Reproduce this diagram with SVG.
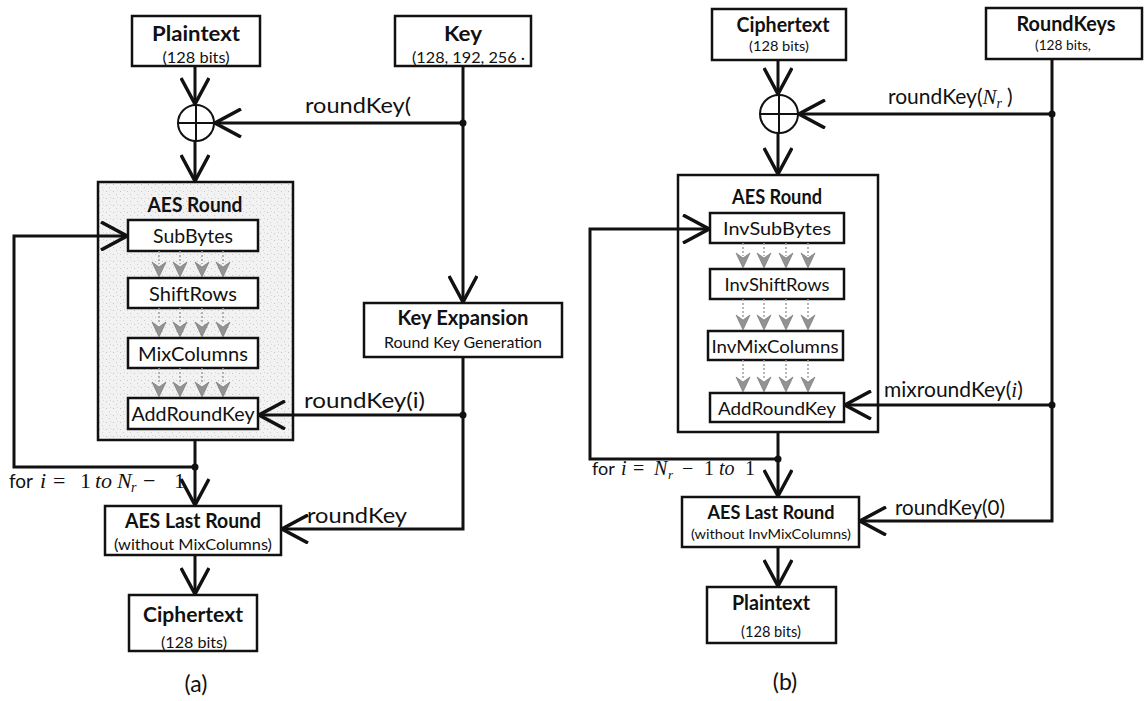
<svg xmlns="http://www.w3.org/2000/svg" xmlns:xlink="http://www.w3.org/1999/xlink" width="1144" height="701" viewBox="0 0 1144 701">
  <defs>
    <style>
      .box { fill: #fff; stroke: #111; stroke-width: 2.5; }
      .line { fill: none; stroke: #111; stroke-width: 3; }
      .thin { fill: none; stroke: #111; stroke-width: 2; }
      .stem { fill: none; stroke: #a0a0a0; stroke-width: 1.5; stroke-dasharray: 2 2; }
      .head { fill: #939393; stroke: #6f6f6f; stroke-width: 0.6; }
      .dot { fill: #111; }
      text { fill: #111; }
      .b { font-family: Lato, "Open Sans", sans-serif; font-weight: bold; text-anchor: middle; }
      .r { font-family: Lato, "Open Sans", sans-serif; }
      .c { text-anchor: middle; }
      .m { font-family: "Liberation Serif", "DejaVu Serif", serif; font-style: italic; }
      .n { font-family: "Liberation Serif", "DejaVu Serif", serif; }
    </style>
    <marker id="v" viewBox="0 0 30 30" refX="28" refY="15" markerWidth="30" markerHeight="30" markerUnits="userSpaceOnUse" orient="auto">
      <path d="M2,1 L28,15 L2,29" fill="none" stroke="#111" stroke-width="3.5"/>
    </marker>
    <pattern id="stipple" width="7" height="7" patternUnits="userSpaceOnUse">
      <rect width="7" height="7" fill="#f2f2f2"/>
      <rect x="1" y="2" width="1" height="1" fill="#c4c4c4"/>
      <rect x="4" y="5" width="1" height="1" fill="#cfcfcf"/>
      <rect x="5" y="1" width="1" height="1" fill="#d8d8d8"/>
    </pattern>
    <path id="gh" d="M-7,-15 L0,0 L7,-15 L0,-10 Z" class="head"/>
  </defs>

  <!-- ===================== (a) Encryption ===================== -->
  <g id="a-plaintext">
    <rect class="box" x="132" y="16" width="128" height="50"/>
    <text class="b" x="196" y="41" font-size="21" textLength="88" lengthAdjust="spacingAndGlyphs">Plaintext</text>
    <text class="r c" x="196" y="63" font-size="16" textLength="67" lengthAdjust="spacingAndGlyphs">(128 bits)</text>
  </g>
  <g id="a-key">
    <rect class="box" x="395" y="16" width="136" height="50"/>
    <text class="b" x="463" y="41" font-size="21" textLength="38" lengthAdjust="spacingAndGlyphs">Key</text>
    <text class="r" x="412" y="63" font-size="16" textLength="113" lengthAdjust="spacingAndGlyphs">(128, 192, 256 ·</text>
  </g>
  <g id="a-xor">
    <circle cx="196" cy="123" r="18" class="thin" fill="#fff"/>
    <path class="thin" d="M178,123 H214 M196,105 V141"/>
  </g>
  <g id="a-round">
    <rect x="98" y="182" width="195" height="258" fill="url(#stipple)" stroke="#111" stroke-width="2.5"/>
    <text class="b" x="195" y="212" font-size="21" textLength="95" lengthAdjust="spacingAndGlyphs">AES Round</text>
    <rect class="box" x="128" y="220" width="130" height="31"/>
    <text class="r c" x="193" y="243" font-size="20" textLength="80" lengthAdjust="spacingAndGlyphs">SubBytes</text>
    <rect class="box" x="128" y="278" width="130" height="30"/>
    <text class="r c" x="193" y="301" font-size="20" textLength="88" lengthAdjust="spacingAndGlyphs">ShiftRows</text>
    <rect class="box" x="128" y="338" width="130" height="30"/>
    <text class="r c" x="193" y="361" font-size="20" textLength="110" lengthAdjust="spacingAndGlyphs">MixColumns</text>
    <rect class="box" x="128" y="398" width="130" height="31"/>
    <text class="r c" x="193" y="421" font-size="20" textLength="123" lengthAdjust="spacingAndGlyphs">AddRoundKey</text>
    <path class="stem" d="M159,251 V264 M180,251 V264 M202,251 V264 M223,251 V264 M159,308 V324 M180,308 V324 M202,308 V324 M223,308 V324 M159,368 V384 M180,368 V384 M202,368 V384 M223,368 V384"/>
    <use xlink:href="#gh" x="159" y="277"/><use xlink:href="#gh" x="180" y="277"/><use xlink:href="#gh" x="202" y="277"/><use xlink:href="#gh" x="223" y="277"/>
    <use xlink:href="#gh" x="159" y="337"/><use xlink:href="#gh" x="180" y="337"/><use xlink:href="#gh" x="202" y="337"/><use xlink:href="#gh" x="223" y="337"/>
    <use xlink:href="#gh" x="159" y="397"/><use xlink:href="#gh" x="180" y="397"/><use xlink:href="#gh" x="202" y="397"/><use xlink:href="#gh" x="223" y="397"/>
  </g>
  <g id="a-expansion">
    <rect class="box" x="364" y="303" width="198" height="54"/>
    <text class="b" x="463" y="325" font-size="20" textLength="131" lengthAdjust="spacingAndGlyphs">Key Expansion</text>
    <text class="r c" x="463" y="348" font-size="16" textLength="158" lengthAdjust="spacingAndGlyphs">Round Key Generation</text>
  </g>
  <g id="a-last">
    <rect class="box" x="105" y="506" width="176" height="49"/>
    <text class="b" x="193" y="528" font-size="20" textLength="136" lengthAdjust="spacingAndGlyphs">AES Last Round</text>
    <text class="r c" x="193" y="550" font-size="16" textLength="158" lengthAdjust="spacingAndGlyphs">(without MixColumns)</text>
  </g>
  <g id="a-ciphertext">
    <rect class="box" x="129" y="595" width="128" height="56"/>
    <text class="b" x="193" y="622" font-size="21" textLength="100" lengthAdjust="spacingAndGlyphs">Ciphertext</text>
    <text class="r c" x="194" y="648" font-size="16" textLength="66" lengthAdjust="spacingAndGlyphs">(128 bits)</text>
  </g>

  <g id="a-connectors">
    <path class="line" d="M195,66 V104" marker-end="url(#v)"/>
    <path class="line" d="M195,141 V181" marker-end="url(#v)"/>
    <path class="line" d="M463,66 V302" marker-end="url(#v)"/>
    <path class="line" d="M463,123 H215" marker-end="url(#v)"/>
    <path class="line" d="M463,357 V529 H282" marker-end="url(#v)"/>
    <path class="line" d="M463,415 H259" marker-end="url(#v)"/>
    <path class="line" d="M195,440 V505" marker-end="url(#v)"/>
    <path class="line" d="M195,467 H14 V236 H127" marker-end="url(#v)"/>
    <path class="line" d="M195,555 V594" marker-end="url(#v)"/>
    <circle class="dot" cx="463" cy="123" r="3.5"/>
    <circle class="dot" cx="463" cy="415" r="3.5"/>
    <circle class="dot" cx="195" cy="467" r="3.5"/>
  </g>
  <g id="a-labels">
    <text class="r" x="305" y="113" font-size="21" textLength="106" lengthAdjust="spacingAndGlyphs">roundKey(</text>
    <text class="r" x="304" y="408" font-size="21" textLength="121" lengthAdjust="spacingAndGlyphs">roundKey(i)</text>
    <text class="r" x="307" y="523" font-size="21" textLength="100" lengthAdjust="spacingAndGlyphs">roundKey</text>
    <text y="488" font-size="22">
      <tspan class="r" x="9" font-size="19">for</tspan>
      <tspan class="m" x="40">i</tspan>
      <tspan class="n" x="53">=</tspan>
      <tspan class="n" x="80">1</tspan>
      <tspan class="m" x="95">to</tspan>
      <tspan class="m" x="117">N</tspan>
      <tspan class="m" x="131" dy="4" font-size="14">r</tspan>
      <tspan class="n" x="143" dy="-4">−</tspan>
      <tspan class="n" x="174">1</tspan>
    </text>
    <text class="r c" x="196" y="692" font-size="23">(a)</text>
  </g>

  <!-- ===================== (b) Decryption ===================== -->
  <g id="b-ciphertext">
    <rect class="box" x="712" y="9" width="134" height="51"/>
    <text class="b" x="783" y="32" font-size="20" textLength="93" lengthAdjust="spacingAndGlyphs">Ciphertext</text>
    <text class="r c" x="779" y="51" font-size="14" textLength="60" lengthAdjust="spacingAndGlyphs">(128 bits)</text>
  </g>
  <g id="b-roundkeys">
    <rect class="box" x="986" y="8" width="156" height="51"/>
    <text class="b" x="1066" y="31" font-size="20" textLength="99" lengthAdjust="spacingAndGlyphs">RoundKeys</text>
    <text class="r" x="1035" y="50" font-size="14" textLength="56" lengthAdjust="spacingAndGlyphs">(128 bits,</text>
  </g>
  <g id="b-xor">
    <circle cx="779" cy="114" r="19" class="thin" fill="#fff"/>
    <path class="thin" d="M760,114 H798 M779,95 V133"/>
  </g>
  <g id="b-round">
    <rect class="box" x="678" y="175" width="200" height="257"/>
    <text class="b" x="777" y="204" font-size="20" textLength="90" lengthAdjust="spacingAndGlyphs">AES Round</text>
    <rect class="box" x="710" y="213" width="134" height="30"/>
    <text class="r c" x="777" y="235" font-size="18" textLength="108" lengthAdjust="spacingAndGlyphs">InvSubBytes</text>
    <rect class="box" x="710" y="269" width="134" height="30"/>
    <text class="r c" x="777" y="291" font-size="18" textLength="105" lengthAdjust="spacingAndGlyphs">InvShiftRows</text>
    <rect class="box" x="708" y="331" width="135" height="29"/>
    <text class="r c" x="775" y="353" font-size="18" textLength="127" lengthAdjust="spacingAndGlyphs">InvMixColumns</text>
    <rect class="box" x="710" y="393" width="134" height="29"/>
    <text class="r c" x="777" y="415" font-size="18" textLength="118" lengthAdjust="spacingAndGlyphs">AddRoundKey</text>
    <path class="stem" d="M743,243 V256 M764,243 V256 M786,243 V256 M808,243 V256 M743,299 V318 M764,299 V318 M786,299 V318 M808,299 V318 M743,360 V380 M764,360 V380 M786,360 V380 M808,360 V380"/>
    <use xlink:href="#gh" x="743" y="268"/><use xlink:href="#gh" x="764" y="268"/><use xlink:href="#gh" x="786" y="268"/><use xlink:href="#gh" x="808" y="268"/>
    <use xlink:href="#gh" x="743" y="330"/><use xlink:href="#gh" x="764" y="330"/><use xlink:href="#gh" x="786" y="330"/><use xlink:href="#gh" x="808" y="330"/>
    <use xlink:href="#gh" x="743" y="392"/><use xlink:href="#gh" x="764" y="392"/><use xlink:href="#gh" x="786" y="392"/><use xlink:href="#gh" x="808" y="392"/>
  </g>
  <g id="b-last">
    <rect class="box" x="682" y="497" width="177" height="50"/>
    <text class="b" x="771" y="519" font-size="19" textLength="127" lengthAdjust="spacingAndGlyphs">AES Last Round</text>
    <text class="r c" x="771" y="539" font-size="14" textLength="160" lengthAdjust="spacingAndGlyphs">(without InvMixColumns)</text>
  </g>
  <g id="b-plaintext">
    <rect class="box" x="707" y="587" width="129" height="56"/>
    <text class="b" x="771" y="610" font-size="20" textLength="78" lengthAdjust="spacingAndGlyphs">Plaintext</text>
    <text class="r c" x="771" y="637" font-size="15" textLength="60" lengthAdjust="spacingAndGlyphs">(128 bits)</text>
  </g>

  <g id="b-connectors">
    <path class="line" d="M778,60 V94" marker-end="url(#v)"/>
    <path class="line" d="M778,133 V174" marker-end="url(#v)"/>
    <path class="line" d="M1052,59 V521 H860" marker-end="url(#v)"/>
    <path class="line" d="M1052,114 H799" marker-end="url(#v)"/>
    <path class="line" d="M1052,405 H845" marker-end="url(#v)"/>
    <path class="line" d="M778,432 V496" marker-end="url(#v)"/>
    <path class="line" d="M778,459 H590 V229 H709" marker-end="url(#v)"/>
    <path class="line" d="M778,547 V586" marker-end="url(#v)"/>
    <circle class="dot" cx="1052" cy="114" r="3.5"/>
    <circle class="dot" cx="1052" cy="405" r="3.5"/>
    <circle class="dot" cx="778" cy="459" r="3.5"/>
  </g>
  <g id="b-labels">
    <text x="888" y="104" font-size="21"><tspan class="r">roundKey(</tspan><tspan class="m">N</tspan><tspan class="m" font-size="14" dy="4">r</tspan><tspan class="r" dy="-4" dx="5">)</tspan></text>
    <text x="884" y="397" font-size="21"><tspan class="r">mixroundKey(</tspan><tspan class="m">i</tspan><tspan class="r">)</tspan></text>
    <text y="475" font-size="20">
      <tspan class="r" x="592" font-size="18">for</tspan>
      <tspan class="m" x="621">i</tspan>
      <tspan class="n" x="633">=</tspan>
      <tspan class="m" x="654">N</tspan>
      <tspan class="m" x="668" dy="4" font-size="13">r</tspan>
      <tspan class="n" x="682" dy="-4">−</tspan>
      <tspan class="n" x="704">1</tspan>
      <tspan class="m" x="719">to</tspan>
      <tspan class="n" x="745">1</tspan>
    </text>
    <text class="r" x="895" y="515" font-size="21" textLength="110" lengthAdjust="spacingAndGlyphs">roundKey(0)</text>
    <text class="r c" x="785" y="690" font-size="23">(b)</text>
  </g>
</svg>
